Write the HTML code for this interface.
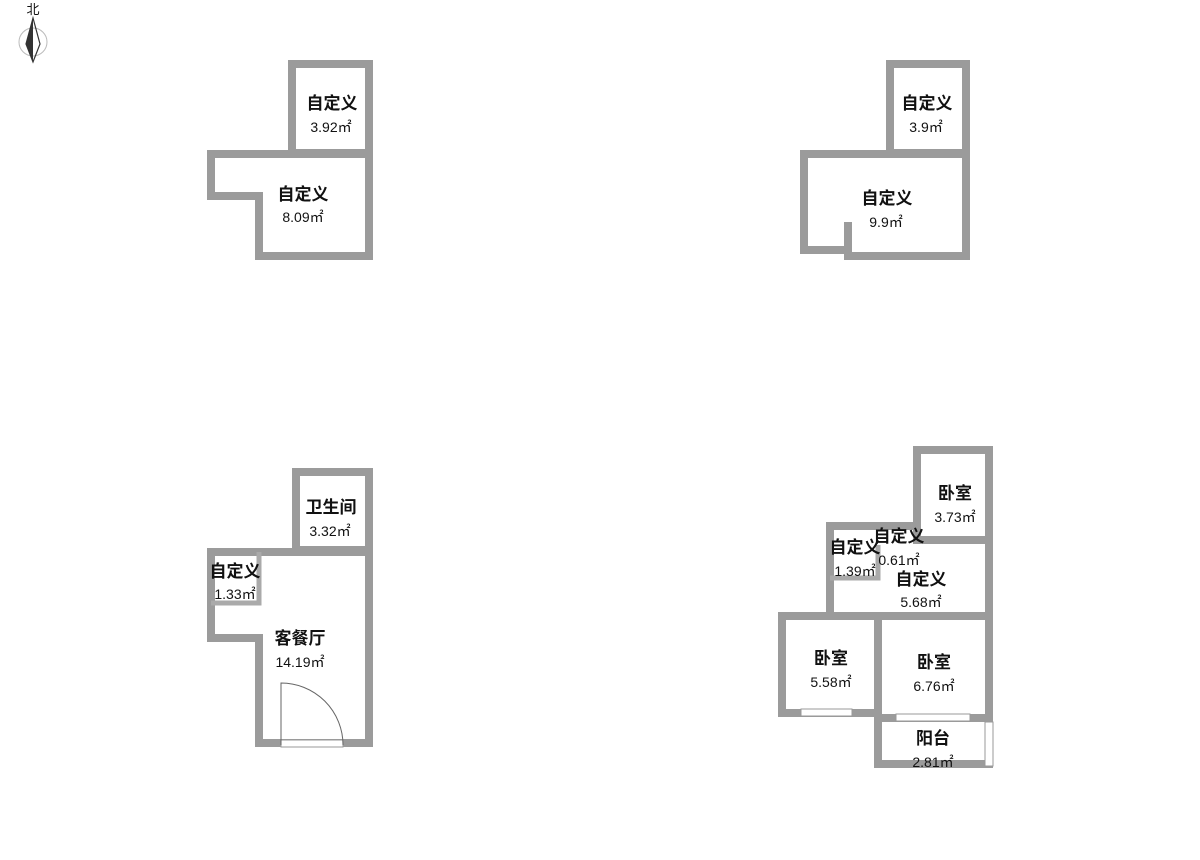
<!DOCTYPE html>
<html><head><meta charset="utf-8"><style>
body{margin:0;background:#fff;}
svg{display:block;}
text{font-family:"Liberation Sans","Noto Sans CJK SC",sans-serif;text-anchor:middle;fill:#111;}
.n{font-size:17px;font-weight:bold;}
.a{font-size:14px;}
</style></head><body>
<svg width="1200" height="860" viewBox="0 0 1200 860">
<!-- compass -->
<text x="33" y="14" font-size="13">北</text>
<circle cx="33" cy="42" r="14" fill="none" stroke="#bbb" stroke-width="1"/>
<polygon points="33,18 26,44 33,62 40,44" fill="none" stroke="#333" stroke-width="1.2"/>
<polygon points="33,18 33,62 26,44" fill="#333"/>

<g fill="none" stroke="#9b9b9b" stroke-width="8" stroke-linejoin="miter">
<rect x="292" y="64" width="77" height="89"/>
<polygon points="211,154 369,154 369,256 259,256 259,196 211,196"/>
<rect x="890" y="64" width="76" height="89"/>
<polyline points="848,256 966,256 966,154 804,154 804,250 848,250"/>
<line x1="848" y1="222" x2="848" y2="260"/>
<rect x="296" y="472" width="73" height="78"/>
<polygon points="211,552 369,552 369,743 259,743 259,638 211,638"/>
<rect x="917" y="450" width="72" height="90"/>
<polyline points="830,614 830,526 917,526"/>
<line x1="917" y1="540" x2="989" y2="540"/>
<line x1="989" y1="450" x2="989" y2="618"/>
<rect x="782" y="616" width="96" height="97"/>
<rect x="878" y="616" width="111" height="102"/>
<polyline points="878,718 878,764 989,764 989,718"/>
</g>
<g fill="none" stroke="#aaa" stroke-width="5">
<polyline points="211,603 259,603 259,552"/>
<polyline points="830,578 878,578 878,545"/>
</g>
<g fill="#fff" stroke="#999" stroke-width="1">
<rect x="281" y="740" width="62" height="7"/>
<rect x="801" y="709" width="51" height="7"/>
<rect x="896" y="714" width="74" height="7"/>
<rect x="985" y="722" width="8" height="44"/>
</g>
<path d="M281,745 L281,683 A62,62 0 0 1 343,745" fill="none" stroke="#666" stroke-width="1"/>

<text class="n" x="332" y="109">自定义</text><text class="a" x="331" y="132">3.92㎡</text>
<text class="n" x="303" y="200">自定义</text><text class="a" x="303" y="222">8.09㎡</text>
<text class="n" x="927" y="109">自定义</text><text class="a" x="926" y="132">3.9㎡</text>
<text class="n" x="887" y="204">自定义</text><text class="a" x="886" y="227">9.9㎡</text>
<text class="n" x="331" y="513">卫生间</text><text class="a" x="330" y="536">3.32㎡</text>
<text class="n" x="235" y="577">自定义</text><text class="a" x="235" y="599">1.33㎡</text>
<text class="n" x="300" y="644">客餐厅</text><text class="a" x="300" y="667">14.19㎡</text>
<text class="n" x="955" y="499">卧室</text><text class="a" x="955" y="522">3.73㎡</text>
<text class="n" x="899" y="542">自定义</text><text class="a" x="899" y="565">0.61㎡</text>
<text class="n" x="855" y="553">自定义</text><text class="a" x="855" y="576">1.39㎡</text>
<text class="n" x="921" y="585">自定义</text><text class="a" x="921" y="607">5.68㎡</text>
<text class="n" x="831" y="664">卧室</text><text class="a" x="831" y="687">5.58㎡</text>
<text class="n" x="934" y="668">卧室</text><text class="a" x="934" y="691">6.76㎡</text>
<text class="n" x="933" y="744">阳台</text><text class="a" x="933" y="767">2.81㎡</text>
</svg>
</body></html>
